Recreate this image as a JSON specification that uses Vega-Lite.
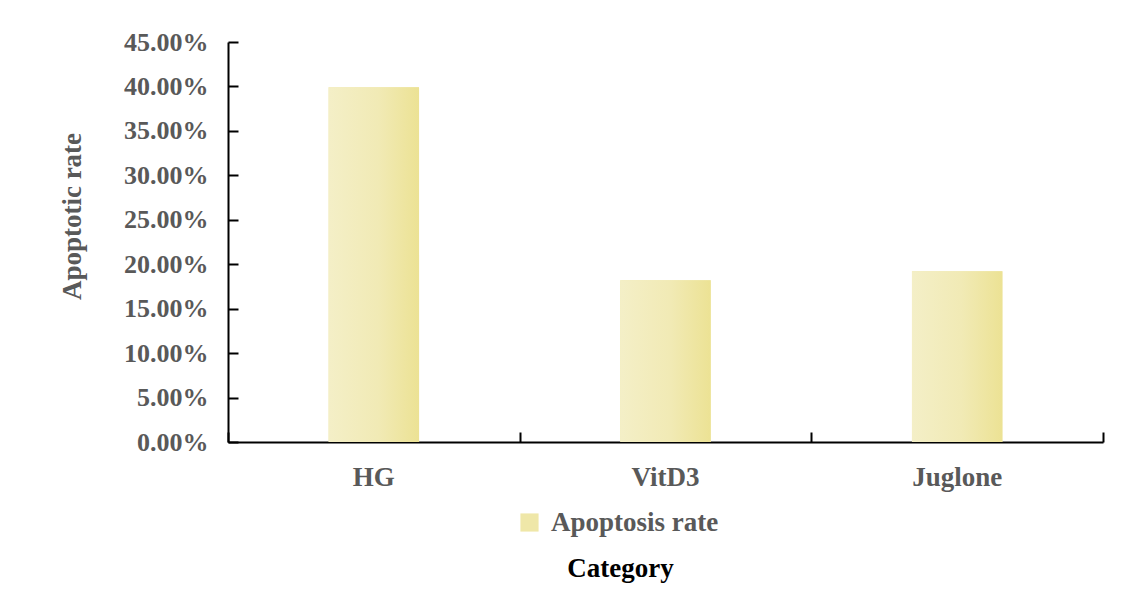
{
  "$schema": "https://vega.github.io/schema/vega-lite/v6.json",
  "width": 875,
  "height": 400,
  "autosize": {"type": "none"},
  "padding": {"left": 228, "top": 42, "right": 21, "bottom": 150},
  "background": "white",
  "title": {
    "text": "Category",
    "orient": "bottom",
    "anchor": "middle",
    "font": "Liberation Serif",
    "fontSize": 27,
    "fontWeight": "bold",
    "color": "#000000",
    "dx": -45,
    "offset": 20
  },
  "data": {
    "values": [
      {"category": "HG", "rate": 0.399, "series": "Apoptosis rate"},
      {"category": "VitD3", "rate": 0.182, "series": "Apoptosis rate"},
      {"category": "Juglone", "rate": 0.192, "series": "Apoptosis rate"}
    ]
  },
  "resolve": {"axis": {"x": "independent", "y": "independent"}},
  "layer": [
    {
      "mark": {"type": "bar", "width": {"band": 0.31}},
      "encoding": {
        "x": {
          "field": "category",
          "type": "nominal",
          "sort": ["HG", "VitD3", "Juglone"],
          "scale": {"paddingInner": 0, "paddingOuter": 0},
          "axis": {
            "orient": "bottom",
            "title": null,
            "labelAngle": 0,
            "labelFont": "Liberation Serif",
            "labelFontSize": 27,
            "labelFontWeight": "bold",
            "labelColor": "#595959",
            "labelPadding": 22,
            "ticks": false,
            "domainColor": "#000000",
            "domainWidth": 2
          }
        },
        "y": {
          "field": "rate",
          "type": "quantitative",
          "scale": {"domain": [0, 0.45]},
          "axis": {
            "orient": "left",
            "title": "Apoptotic rate",
            "values": [0, 0.05, 0.1, 0.15, 0.2, 0.25, 0.3, 0.35, 0.4, 0.45],
            "format": ".2%",
            "grid": false,
            "ticks": false,
            "labelFont": "Liberation Serif",
            "labelFontSize": 26,
            "labelFontWeight": "bold",
            "labelColor": "#595959",
            "labelPadding": 20,
            "domainColor": "#000000",
            "domainWidth": 2,
            "titleFont": "Liberation Serif",
            "titleFontSize": 27,
            "titleFontWeight": "bold",
            "titleColor": "#595959",
            "titleX": -156,
            "titleY": 174,
            "titleBaseline": "middle",
            "titleAngle": 270
          }
        },
        "color": {
          "field": "series",
          "type": "nominal",
          "scale": {"range": ["#EFE7A8"]},
          "legend": {
            "title": null,
            "orient": "none",
            "legendX": 288,
            "legendY": 467,
            "symbolType": "square",
            "symbolSize": 330,
            "symbolStrokeWidth": 0,
            "labelFont": "Liberation Serif",
            "labelFontSize": 27,
            "labelFontWeight": "bold",
            "labelColor": "#595959",
            "labelOffset": 8,
            "labelLimit": 400
          }
        }
      }
    },
    {
      "mark": {
        "type": "bar",
        "width": {"band": 0.31},
        "color": {
          "gradient": "linear",
          "x1": 0, "y1": 0, "x2": 1, "y2": 0,
          "stops": [
            {"offset": 0, "color": "#F4EFC7"},
            {"offset": 0.55, "color": "#F1EAB5"},
            {"offset": 1, "color": "#ECE294"}
          ]
        }
      },
      "encoding": {
        "x": {
          "field": "category",
          "type": "nominal",
          "sort": ["HG", "VitD3", "Juglone"],
          "axis": {
            "orient": "bottom",
            "title": null,
            "labels": false,
            "domain": false,
            "offset": -10,
            "tickBand": "extent",
            "tickSize": 10,
            "tickColor": "#000000",
            "tickWidth": 2
          }
        },
        "y": {
          "field": "rate",
          "type": "quantitative",
          "axis": {
            "orient": "left",
            "title": null,
            "labels": false,
            "domain": false,
            "grid": false,
            "offset": -10,
            "values": [0, 0.05, 0.1, 0.15, 0.2, 0.25, 0.3, 0.35, 0.4, 0.45],
            "tickSize": 10,
            "tickColor": "#000000",
            "tickWidth": 2
          }
        }
      }
    }
  ],
  "config": {"view": {"stroke": null}}
}
